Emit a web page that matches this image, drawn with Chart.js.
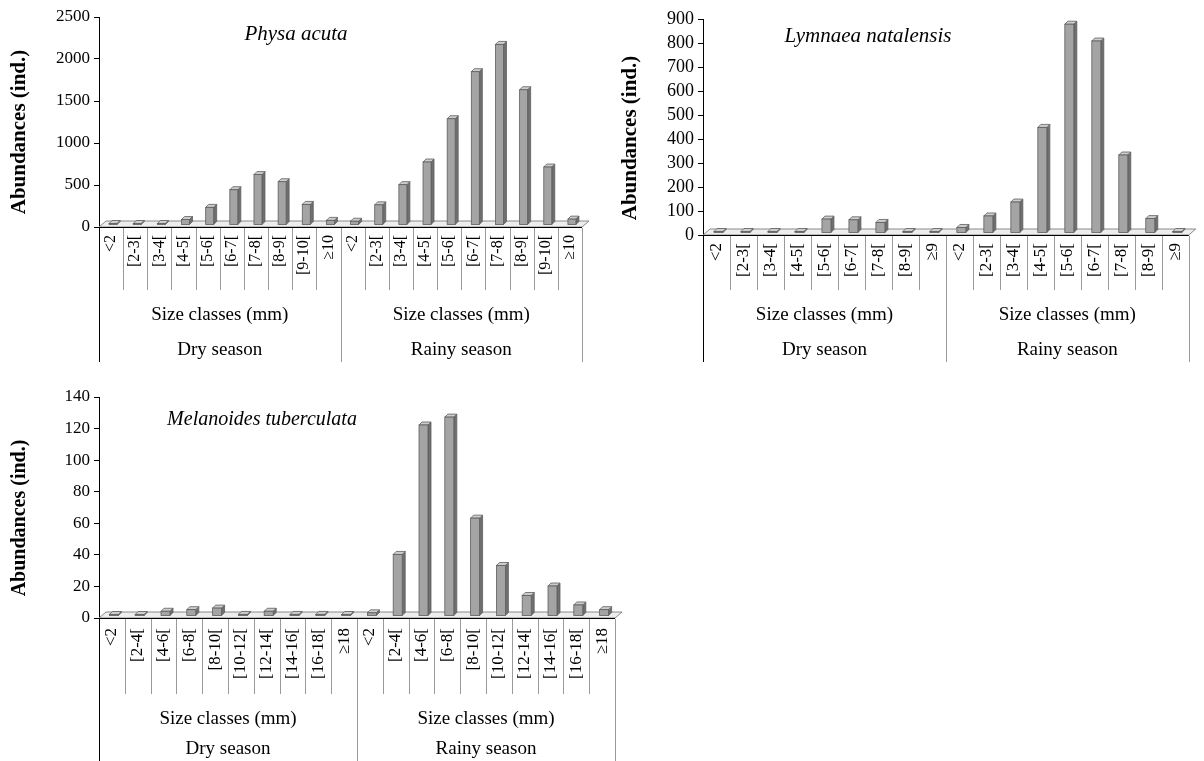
<!DOCTYPE html>
<html lang="en">
<head>
<meta charset="UTF-8" />
<title>Size-class abundances of three snail species</title>
<script src="https://cdn.jsdelivr.net/npm/chart.js"></script>
<style>
  body { margin: 0; background: #fff; width: 1204px; height: 761px; position: relative; overflow: hidden; }
  canvas { position: absolute; }
</style>
</head>
<body>
<canvas id="physa" width="600" height="370" style="left:0;top:0"></canvas>
<canvas id="lymnaea" width="604" height="370" style="left:600px;top:0"></canvas>
<canvas id="melanoides" width="640" height="381" style="left:0;top:380px"></canvas>

<script>
// values (individuals per size class)
const seasons = ["Dry season", "Rainy season"];
const groupLabel = "Size classes (mm)";
const yTitle = "Abundances (ind.)";

const physaClasses = ["<2", "[2-3[", "[3-4[", "[4-5[", "[5-6[", "[6-7[", "[7-8[", "[8-9[", "[9-10[", "≥10"];
const physaDry = [5, 5, 10, 65, 210, 420, 600, 515, 245, 55];
const physaRainy = [45, 240, 480, 750, 1265, 1825, 2150, 1610, 690, 70];

const lymnaeaClasses = ["<2", "[2-3[", "[3-4[", "[4-5[", "[5-6[", "[6-7[", "[7-8[", "[8-9[", "≥9"];
const lymnaeaDry = [2, 2, 2, 5, 58, 55, 44, 3, 2];
const lymnaeaRainy = [23, 71, 129, 440, 870, 800, 325, 60, 5];

const melanoidesClasses = ["<2", "[2-4[", "[4-6[", "[6-8[", "[8-10[", "[10-12[", "[12-14[", "[14-16[", "[16-18[", "≥18"];
const melanoidesDry = [0.5, 0.5, 3, 4, 5, 1, 3, 1, 1, 0.3];
const melanoidesRainy = [2, 39, 121, 126, 62, 32, 13, 19, 7, 4];

const serif = "'Liberation Serif', 'Times New Roman', serif";

// fake excel 3d look: floor, bar faces, multi-level category axis
const excel3d = {
  id: "excel3d",
  beforeDatasetsDraw(chart, args, o) {
    const { ctx, chartArea: a } = chart;
    const y0 = chart.scales.y.getPixelForValue(0);
    ctx.save();
    ctx.beginPath();
    ctx.moveTo(a.left, y0);
    ctx.lineTo(a.right, y0);
    ctx.lineTo(a.right + o.dx, y0 - o.dy);
    ctx.lineTo(a.left + o.dx, y0 - o.dy);
    ctx.closePath();
    ctx.fillStyle = "#ededed";
    ctx.fill();
    ctx.strokeStyle = "#8a8a8a";
    ctx.lineWidth = 1;
    ctx.stroke();
    ctx.restore();
  },
  afterDatasetsDraw(chart, args, o) {
    const { ctx, chartArea: a } = chart;
    const y0 = chart.scales.y.getPixelForValue(0);
    const meta = chart.getDatasetMeta(0);
    ctx.save();
    ctx.lineWidth = 0.8;
    ctx.strokeStyle = "#5e5e5e";
    meta.data.forEach(el => {
      const { x, y, base, width } = el.getProps(["x", "y", "base", "width"], true);
      const l = x - width / 2 + o.sx, r = x + width / 2 + o.sx;
      const t = Math.min(y, base - 1) + o.sy, b = base + o.sy;
      // side
      ctx.beginPath();
      ctx.moveTo(r, t); ctx.lineTo(r + o.bdx, t - o.bdy);
      ctx.lineTo(r + o.bdx, b - o.bdy); ctx.lineTo(r, b); ctx.closePath();
      ctx.fillStyle = "#6f6f6f"; ctx.fill(); ctx.stroke();
      // top
      ctx.beginPath();
      ctx.moveTo(l, t); ctx.lineTo(r, t);
      ctx.lineTo(r + o.bdx, t - o.bdy); ctx.lineTo(l + o.bdx, t - o.bdy); ctx.closePath();
      ctx.fillStyle = "#cdcdcd"; ctx.fill(); ctx.stroke();
      // front
      ctx.fillStyle = "#a4a4a4";
      ctx.fillRect(l, t, r - l, b - t);
      ctx.strokeRect(l, t, r - l, b - t);
    });
    // front edge of the floor
    ctx.strokeStyle = "#000";
    ctx.lineWidth = 1.2;
    ctx.beginPath();
    ctx.moveTo(a.left, y0 + 0.5);
    ctx.lineTo(a.right, y0 + 0.5);
    ctx.stroke();
    ctx.restore();
  },
  afterDraw(chart, args, o) {
    const { ctx, chartArea: a } = chart;
    const y0 = chart.scales.y.getPixelForValue(0);
    const n = chart.data.labels.length;
    const half = n / 2;
    const bw = a.width / n;
    ctx.save();
    ctx.lineWidth = 1;
    ctx.strokeStyle = "#9a9a9a";
    for (let i = 1; i <= n; i++) {
      const x = Math.round(a.left + i * bw) + 0.5;
      ctx.beginPath();
      ctx.moveTo(x, y0 + 1);
      ctx.lineTo(x, i === half || i === n ? o.lineBottom : o.sepBottom);
      ctx.stroke();
    }
    ctx.strokeStyle = "#000";
    ctx.beginPath();
    ctx.moveTo(a.left + 0.5, y0);
    ctx.lineTo(a.left + 0.5, o.lineBottom);
    ctx.stroke();

    ctx.fillStyle = "#000";
    ctx.textAlign = "center";
    ctx.textBaseline = "middle";
    ctx.font = o.groupFont + "px " + serif;
    seasons.forEach((s, k) => {
      const cx = a.left + (k * half + half / 2) * bw;
      ctx.fillText(groupLabel, cx, o.groupY);
      ctx.fillText(s, cx, o.seasonY);
    });

    ctx.font = "italic " + o.speciesFont + "px " + serif;
    ctx.fillText(o.species, o.speciesX, o.speciesY);

    ctx.translate(o.titleX, o.titleY);
    ctx.rotate(-Math.PI / 2);
    ctx.font = "bold " + o.titleFont + "px " + serif;
    ctx.fillText(yTitle, 0, 0);
    ctx.restore();
  }
};

function makeChart(id, classes, dry, rainy, yMax, yStep, box, deco) {
  const canvas = document.getElementById(id);
  return new Chart(canvas, {
    type: "bar",
    data: {
      labels: classes.concat(classes),
      datasets: [{
        data: dry.concat(rainy),
        backgroundColor: "rgba(0,0,0,0)",
        borderWidth: 0,
        barThickness: deco.barWidth
      }]
    },
    options: {
      responsive: false,
      animation: false,
      layout: { padding: { left: 0, top: box.top, right: canvas.width - box.right, bottom: 0 } },
      plugins: {
        legend: { display: false },
        tooltip: { enabled: false },
        excel3d: deco
      },
      scales: {
        x: {
          grid: { display: false, drawTicks: false },
          border: { display: false },
          ticks: {
            autoSkip: false, maxRotation: 90, minRotation: 90,
            color: "#000", padding: deco.labelPad,
            font: { family: serif, size: deco.labelFont }
          },
          afterFit: s => { s.height = canvas.height - box.bottom; }
        },
        y: {
          min: 0, max: yMax,
          grid: { drawOnChartArea: false, drawTicks: true, tickLength: 5, color: "#000" },
          border: { display: true, color: "#000", width: 1 },
          ticks: {
            stepSize: yStep, autoSkip: false, color: "#000", padding: 4,
            font: { family: serif, size: deco.tickFont },
            callback: v => String(v)
          },
          afterFit: s => { s.width = box.left; }
        }
      }
    },
    plugins: [excel3d]
  });
}

const common = { dx: 7, dy: 6, sx: 2, sy: -2, bdx: 3, bdy: 3 };

makeChart("physa", physaClasses, physaDry, physaRainy, 2500, 500,
  { left: 99, top: 17, right: 582, bottom: 227 },
  Object.assign({}, common, {
    barWidth: 8, labelFont: 16, labelPad: 8, tickFont: 17, groupFont: 19,
    sepBottom: 290, groupY: 315, seasonY: 350, lineBottom: 362,
    species: "Physa acuta", speciesX: 296, speciesY: 34, speciesFont: 21,
    titleX: 20, titleY: 132, titleFont: 21
  }));

makeChart("lymnaea", lymnaeaClasses, lymnaeaDry, lymnaeaRainy, 900, 100,
  { left: 103, top: 19, right: 592, bottom: 235 },
  Object.assign({}, common, {
    barWidth: 9, labelFont: 17, labelPad: 8, tickFont: 18, groupFont: 19,
    sepBottom: 290, groupY: 315, seasonY: 350, lineBottom: 362,
    species: "Lymnaea natalensis", speciesX: 268, speciesY: 36, speciesFont: 21,
    titleX: 31, titleY: 138, titleFont: 21
  }));

makeChart("melanoides", melanoidesClasses, melanoidesDry, melanoidesRainy, 140, 20,
  { left: 99, top: 17, right: 615, bottom: 238 },
  Object.assign({}, common, {
    barWidth: 9, labelFont: 17, labelPad: 10, tickFont: 17, groupFont: 19,
    sepBottom: 314, groupY: 339, seasonY: 369, lineBottom: 381,
    species: "Melanoides tuberculata", speciesX: 262, speciesY: 40, speciesFont: 20,
    titleX: 20, titleY: 138, titleFont: 20
  }));
</script>
</body>
</html>
